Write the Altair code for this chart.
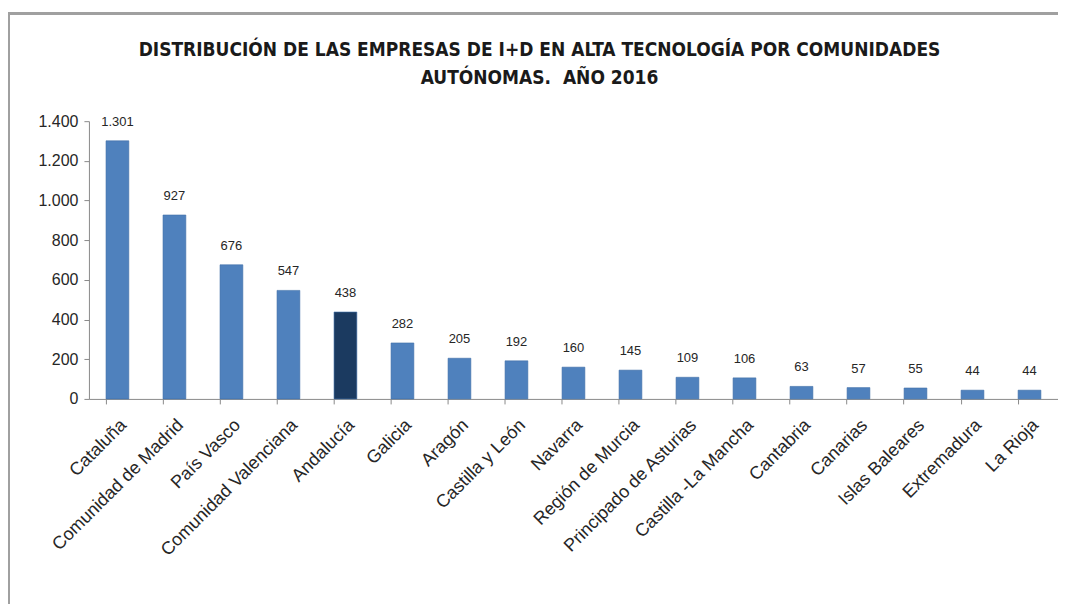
import altair as alt
import pandas as pd

regions = ["Cataluña", "Comunidad de Madrid", "País Vasco", "Comunidad Valenciana",
           "Andalucía", "Galicia", "Aragón", "Castilla y León", "Navarra",
           "Región de Murcia", "Principado de Asturias", "Castilla -La Mancha",
           "Cantabria", "Canarias", "Islas Baleares", "Extremadura", "La Rioja"]
values = [1301, 927, 676, 547, 438, 282, 205, 192, 160, 145, 109, 106, 63, 57, 55, 44, 44]
highlight = ["Andalucía"]
y_ticks = [0, 200, 400, 600, 800, 1000, 1200, 1400]

df = pd.DataFrame({"region": regions, "value": values})
df["hl"] = df["region"].isin(highlight)

FONT = "Liberation Sans"
TFONT = "DejaVu Sans Condensed, Liberation Sans, sans-serif"

base = alt.Chart(df)

x = alt.X("region:N", sort=regions, title=None,
          scale=alt.Scale(paddingInner=0.6, paddingOuter=0.3),
          axis=alt.Axis(labelAngle=-45, labelFont=FONT, labelFontSize=18,
                        labelColor="#262626", domainColor="#8a8a8a", tickColor="#8a8a8a",
                        tickSize=5, bandPosition=0, labelPadding=12, labelOverlap=False,
                        labelLimit=400))

yaxis = alt.Axis(values=y_ticks,
                 labelExpr="replace(format(datum.value, ','), ',', '.')",
                 labelFont=FONT, labelFontSize=16, labelColor="#262626",
                 domainColor="#8a8a8a", tickColor="#8a8a8a", tickSize=5,
                 grid=False, labelPadding=6, labelOverlap=False)

bars = base.mark_bar(stroke="#3f6fa8", strokeWidth=0.6).encode(
    x=x,
    y=alt.Y("value:Q", title=None, scale=alt.Scale(domain=[0, 1400]), axis=yaxis),
    color=alt.condition("datum.hl", alt.value("#1b3a60"), alt.value("#4f81bd")),
)

labels = base.mark_text(baseline="bottom", dy=-12, font=FONT, fontSize=13, color="#262626").encode(
    x=alt.X("region:N", sort=regions),
    y=alt.Y("value:Q", title=None, scale=alt.Scale(domain=[0, 1400]), axis=yaxis),
    text=alt.Text("lbl:N"),
).transform_calculate(lbl="replace(format(datum.value, ','), ',', '.')")

frame_left = alt.Chart(df).mark_rule(color="#a0a0a0", strokeWidth=2).encode(
    x=alt.value(-80), y=alt.value(-108), y2=alt.value(700))
frame_top = alt.Chart(df).mark_rule(color="#a0a0a0", strokeWidth=2).encode(
    x=alt.value(-81), x2=alt.value(1000), y=alt.value(-108))

chart = alt.layer(frame_left, frame_top, bars, labels).properties(
    width=970, height=278,
    autosize=alt.AutoSizeParams(type="none"),
    padding={"left": 81, "top": 113, "right": 0, "bottom": 205},
    title=alt.TitleParams(
        text=["DISTRIBUCIÓN DE LAS EMPRESAS DE I+D EN ALTA TECNOLOGÍA POR COMUNIDADES",
              "AUTÓNOMAS.\u00a0 AÑO 2016"],
        font=TFONT, fontSize=19, fontWeight="bold", color="#1a1a1a",
        anchor="middle", frame="group", dx=-34, offset=0, dy=76, lineHeight=28),
).configure_view(stroke=None).configure_axis(labelOverlap=False)

chart.save("out.html", embed_options={"renderer": "svg", "actions": False})
